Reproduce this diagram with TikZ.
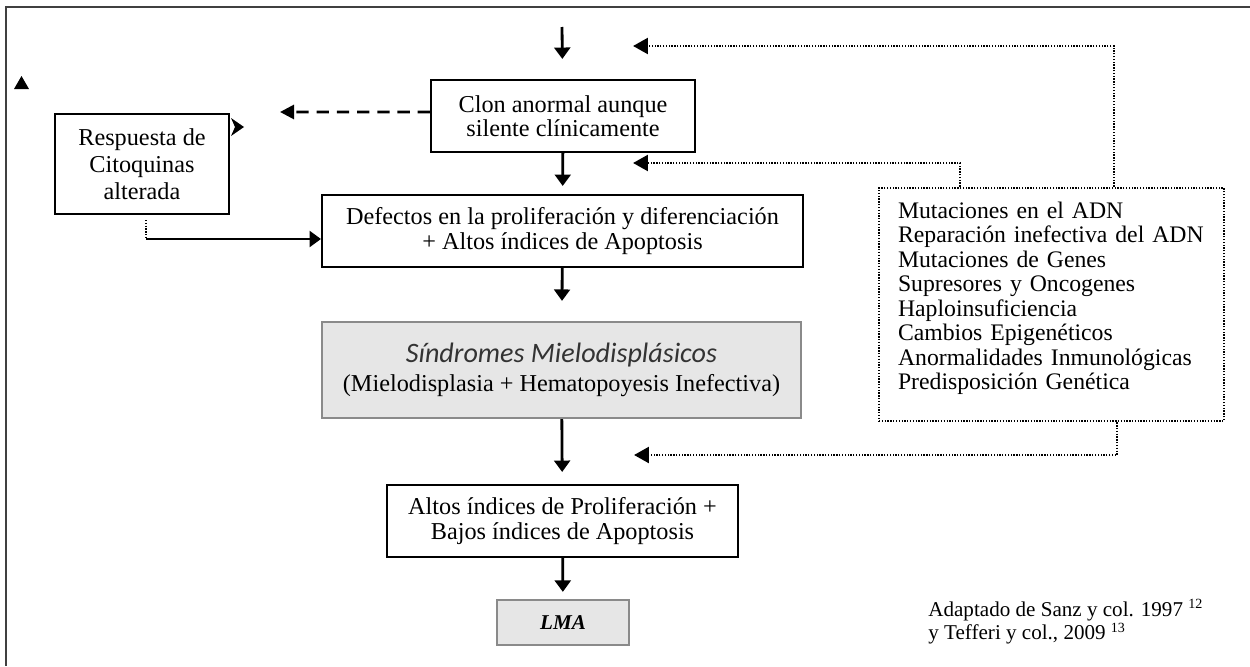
\documentclass[tikz,border=0pt]{standalone}
\usepackage{fontspec}
\setmainfont{Liberation Serif}
\newfontfamily\carlito{Carlito}
\usepackage{tikz}
\usetikzlibrary{calc}
\usetikzlibrary{arrows.meta}
\usetikzlibrary{positioning}

\definecolor{boxgray}{HTML}{E6E6E6}
\definecolor{edgegray}{HTML}{8A8A8A}
\definecolor{smtext}{HTML}{333333}

\begin{document}
\begin{tikzpicture}[x=0.02cm, y=-0.02cm,
    every node/.style={font=\fontsize{13.8}{13.8}\selectfont, text=black},
    caja/.style={draw, line width=1.2pt, align=center, inner sep=0pt},
    cajagris/.style={draw=edgegray, fill=boxgray, line width=1.3pt, align=center, inner sep=0pt},
    arr/.style={line width=1.6pt, -{Triangle[length=6.5pt,width=9pt]}},
    dotln/.style={line width=1.6pt, dash pattern=on 0.75pt off 0.85pt},
    dotarr/.style={dotln, -{Triangle[length=8.5pt,width=9pt]}},
    dasharr/.style={line width=1.6pt, dash pattern=on 7pt off 4.5pt, -{Triangle[length=8pt,width=8pt]}}]
    \useasboundingbox (0,0) rectangle (1250,666);
    % frame
    \draw[line width=1.1pt, black!75] (1250,7) -- (6,7) -- (6,666);

    % boxes
    \node[caja, minimum width=5.28cm, minimum height=1.44cm] (clon) at (563,116)
        {Clon anormal aunque\\silente cl\'inicamente};
    \node[caja, minimum width=3.48cm, minimum height=2cm,
          font=\fontsize{13.8}{15.2}\selectfont] (resp) at (142,164)
        {Respuesta de\\Citoquinas\\alterada};
    \node[caja, minimum width=9.62cm, minimum height=1.44cm] (defectos) at (562.5,231)
        {Defectos en la proliferaci\'on y diferenciaci\'on\\+ Altos \'indices de Apoptosis};
    \node[cajagris, minimum width=9.58cm, minimum height=1.92cm] (sm) at (561.5,370)
        {{\carlito\itshape\fontsize{16}{16}\selectfont\color{smtext}S\'indromes Mielodispl\'asicos}\\[3pt]
         (Mielodisplasia + Hematopoyesis Inefectiva)};
    \node[caja, minimum width=7.02cm, minimum height=1.44cm,
          font=\fontsize{13.8}{14.2}\selectfont] (altos) at (562.5,521)
        {Altos \'indices de Proliferaci\'on +\\Bajos \'indices de Apoptosis};
    \node[cajagris, minimum width=2.64cm, minimum height=0.9cm,
          font=\fontsize{12}{13}\selectfont\bfseries\itshape] (lma) at (563,622.5) {LMA};
    \node[draw, dotln, minimum width=6.9cm, minimum height=4.66cm, inner xsep=0.38cm,
          text width=6.14cm, align=left, font=\fontsize{13.5}{13.9}\selectfont] (factores) at (1051.5,304.5)
        {Mutaciones en el ADN\\Reparaci\'on inefectiva del ADN\\Mutaciones de Genes\\
         Supresores y Oncogenes\\Haploinsuficiencia\\Cambios Epigen\'eticos\\
         Anormalidades Inmunol\'ogicas\\Predisposici\'on Gen\'etica\rule[-10pt]{0pt}{10pt}};
    \node[anchor=west, align=left, inner sep=0pt,
          font=\fontsize{12}{13.3}\selectfont] (cita) at (928,622)
        {Adaptado de Sanz y col. 1997 \textsuperscript{12}\\
         y Tefferi y col., 2009 \textsuperscript{13}};

    % main flow
    \coordinate (inicio) at (562,27);
    \draw[arr, shorten >=0.4cm] (inicio) -- (clon);
    \draw[arr, shorten >=0.16cm] (clon) -- (defectos);
    \draw[arr, shorten >=0.4cm] (defectos) -- (sm);
    \draw[arr, shorten >=0.24cm] (sm) -- (altos);
    \draw[arr, shorten >=0.14cm] (altos) -- (lma);

    % cytokines
    \coordinate (dash1) at (280,112);
    \draw[dasharr] ([yshift=0.08cm]clon.west) -- (dash1);
    \coordinate (r0) at (146,220);
    \coordinate (r1) at (146,239);
    \draw[dotln] (r0) -- (r1);
    \draw[arr] (r1) -- (r1 -| defectos.west);

    % feedback from the factors box
    \coordinate (q1) at (1114,46);
    \coordinate (q2) at (960,163);
    \coordinate (q3) at (1117,455);
    \coordinate (t1) at (633,46);
    \coordinate (t2) at (633,163);
    \coordinate (t3) at (634,455);
    \draw[dotarr] (factores.north -| q1) -- (q1) -- (t1);
    \draw[dotarr] (factores.north -| q2) -- (q2) -- (t2);
    \draw[dotarr] (factores.south -| q3) -- (q3) -- (t3);

    % loose arrow heads
    \fill (14,89) -- (29,89) -- (21.5,76) -- cycle;
    \fill (231,118) -- (244,127) -- (231,136) -- (235,127) -- cycle;
\end{tikzpicture}
\end{document}
